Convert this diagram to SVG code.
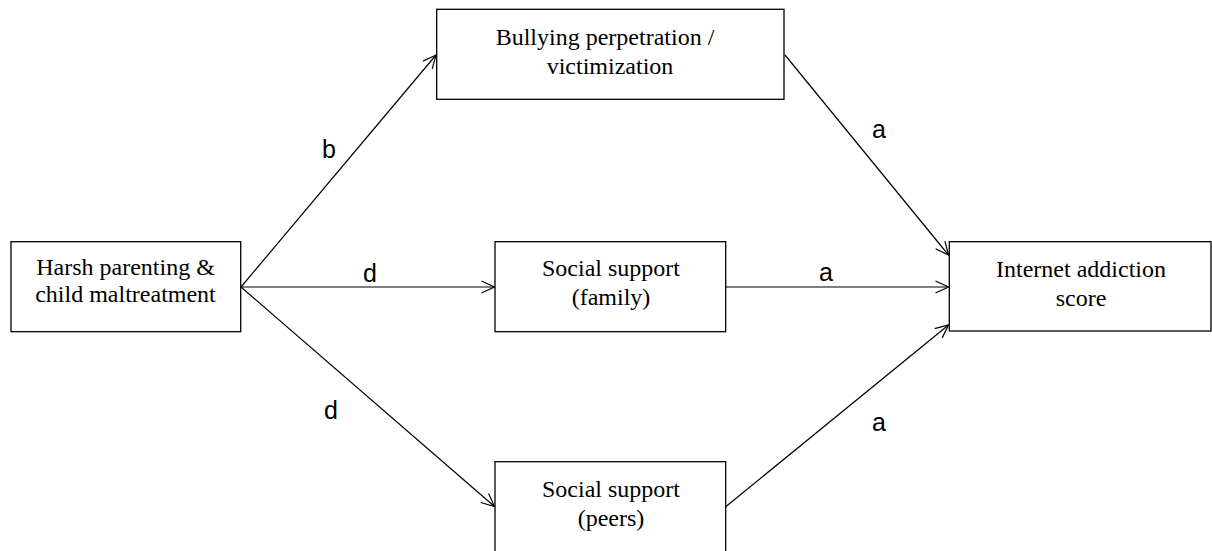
<svg xmlns="http://www.w3.org/2000/svg" width="1212" height="551" viewBox="0 0 1212 551">
<style>
.box{fill:#fff;stroke:#000;stroke-width:1.3}
.t{font-family:"Liberation Serif","Times New Roman",serif;font-size:24px;fill:#000;text-anchor:middle}
.lbl{font-family:"Liberation Sans",Arial,sans-serif;font-size:25px;fill:#000;text-anchor:middle}
.c{stroke:#000;stroke-width:1.2;fill:none;marker-end:url(#ah)}
</style>
<defs>
<marker id="ah" markerUnits="userSpaceOnUse" markerWidth="16" markerHeight="16" refX="14" refY="7" orient="auto" viewBox="0 0 16 14">
<path d="M1,1 L14,7 L1,13" fill="none" stroke="#000" stroke-width="1.2"/>
</marker>
</defs>
<rect width="1212" height="551" fill="#fff"/>
<g id="connectors">
<line class="c" x1="241" y1="287" x2="436" y2="55"/>
<line class="c" x1="241" y1="287" x2="494.5" y2="287"/>
<line class="c" x1="241" y1="287" x2="494.5" y2="506.5"/>
<line class="c" x1="785" y1="55" x2="948.5" y2="255"/>
<line class="c" x1="726" y1="287" x2="948.5" y2="287"/>
<line class="c" x1="726" y1="506.5" x2="948.5" y2="325"/>
</g>
<g id="labels">
<text class="lbl" x="329" y="158">b</text>
<text class="lbl" x="370" y="282">d</text>
<text class="lbl" x="331" y="419">d</text>
<text class="lbl" x="879" y="138">a</text>
<text class="lbl" x="826" y="281">a</text>
<text class="lbl" x="879" y="431">a</text>
</g>
<g id="harsh">
<rect class="box" x="11" y="241.7" width="229.7" height="90"/>
<text class="t" x="125.5" y="275">Harsh parenting &amp;</text>
<text class="t" x="125.5" y="302">child maltreatment</text>
</g>
<g id="bullying">
<rect class="box" x="436.7" y="9.3" width="347.3" height="90"/>
<text class="t" x="605" y="45">Bullying perpetration /</text>
<text class="t" x="610" y="74">victimization</text>
</g>
<g id="family">
<rect class="box" x="495" y="241.7" width="230.7" height="90"/>
<text class="t" x="611" y="276">Social support</text>
<text class="t" x="611" y="305">(family)</text>
</g>
<g id="peers">
<rect class="box" x="495" y="461.7" width="230.7" height="92"/>
<text class="t" x="611" y="497">Social support</text>
<text class="t" x="611" y="526">(peers)</text>
</g>
<g id="internet">
<rect class="box" x="949.3" y="241.7" width="261.7" height="89.3"/>
<text class="t" x="1081" y="277">Internet addiction</text>
<text class="t" x="1081" y="306">score</text>
</g>
</svg>
